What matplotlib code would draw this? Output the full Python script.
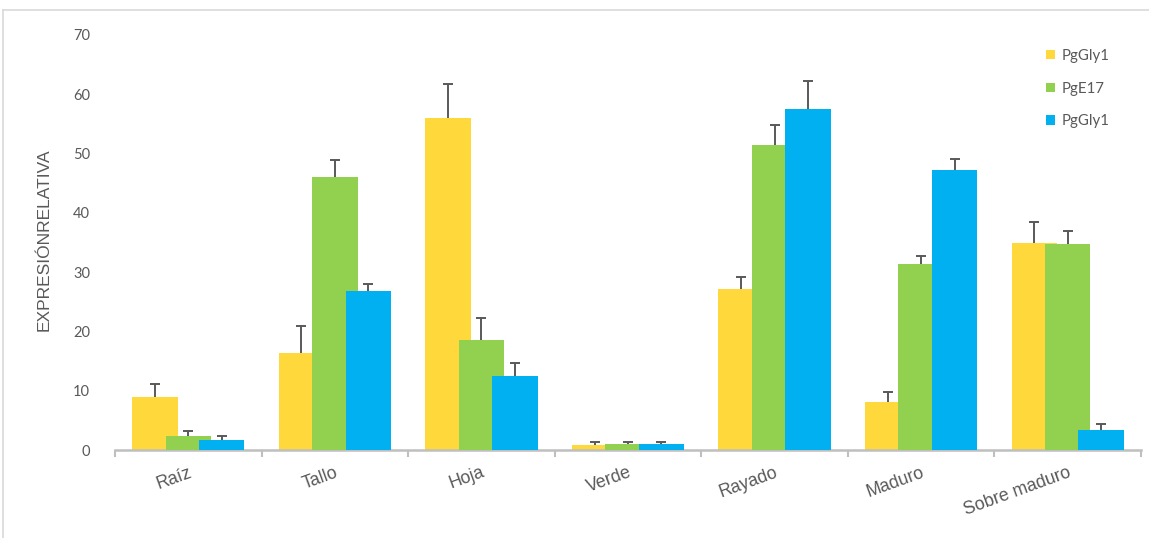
import numpy as np
import matplotlib.pyplot as plt
from matplotlib.lines import Line2D

# ============================================================
# Expresión relativa por tejido / estado de madurez
# ============================================================

categorias = ["Raíz", "Tallo", "Hoja", "Verde", "Rayado", "Maduro", "Sobre maduro"]

series = ["PgGly1", "PgE17", "PgGly1"]
colores = ["#FFD93B", "#92D050", "#00B0F0"]

# medias
gly1_a = [9.0, 16.4, 56.0, 0.9, 27.2, 8.1, 35.0]
e17 = [2.3, 46.0, 18.6, 1.0, 51.4, 31.3, 34.7]
gly1_b = [1.7, 26.9, 12.5, 1.0, 57.5, 47.2, 3.4]

# error (solo hacia arriba)
err_gly1_a = [2.1, 4.5, 5.7, 0.4, 1.9, 1.6, 3.5]
err_e17 = [0.85, 3.0, 3.7, 0.4, 3.5, 1.5, 2.2]
err_gly1_b = [0.7, 1.1, 2.2, 0.4, 4.7, 1.9, 1.0]

medias = [gly1_a, e17, gly1_b]
errores = [err_gly1_a, err_e17, err_gly1_b]

gris = "#595959"

# ============================================================
# Figura
# ============================================================

fig = plt.figure(figsize=(11.49, 5.38), dpi=100)
ax = fig.add_axes([115 / 1149, 1 - 450 / 538, (1141 - 115) / 1149, 415 / 538])

x = np.arange(len(categorias))
ancho = 0.31
paso = 0.2285

for i, (vals, errs) in enumerate(zip(medias, errores)):
    pos = x + (i - 1) * paso
    ax.bar(pos, vals, width=ancho, color=colores[i], label=series[i],
           zorder=2 + i)
    eb = ax.errorbar(pos, vals, yerr=[np.zeros(len(vals)), errs], fmt="none",
                     ecolor=gris, elinewidth=1.4, capsize=3.3, capthick=1.4,
                     zorder=6)
    # sin tapa inferior
    eb[1][0].set_visible(False)

ax.set_xlim(-0.5, len(categorias) - 0.5)
ax.set_ylim(0, 70)
ax.set_yticks(np.arange(0, 71, 10))

for s in ["top", "right", "left"]:
    ax.spines[s].set_visible(False)
ax.spines["bottom"].set_color("#BFBFBF")
ax.spines["bottom"].set_linewidth(1.8)

ax.set_xticks(x)
ax.set_xticklabels(categorias, rotation=20, ha="right",
                   rotation_mode="anchor", fontsize=12.8, color=gris,
                   family="Liberation Sans")
ax.set_xticks(np.arange(-0.5, len(categorias), 1), minor=True)
ax.tick_params(axis="x", which="major", length=0, pad=10)
ax.tick_params(axis="x", which="minor", length=5, width=1.5,
               color="#BFBFBF", direction="out")

ax.tick_params(axis="y", length=0, pad=18, labelcolor=gris, labelsize=10.5)
for lab in ax.get_yticklabels():
    lab.set_family("Lato")

fig.text(44 / 1149, 1 - 240 / 538, "EXPRESIÓNRELATIVA", rotation=90,
         ha="center", va="center", fontsize=12.5, color=gris,
         family="Liberation Sans")

leg = fig.legend(loc="upper left", bbox_to_anchor=(1046 / 1149, 1 - 49 / 538),
                 frameon=False, borderpad=0, borderaxespad=0,
                 handlelength=0.6, handleheight=0.6, handletextpad=0.45,
                 labelspacing=1.25, prop={"family": "Lato", "size": 10.8})
for t in leg.get_texts():
    t.set_color(gris)

# marco del área del gráfico
fig.add_artist(Line2D([3 / 1149, 1], [1 - 10 / 538, 1 - 10 / 538],
                      color="#D9D9D9", lw=1.2, transform=fig.transFigure))
fig.add_artist(Line2D([3 / 1149, 3 / 1149], [0, 1 - 10 / 538],
                      color="#D9D9D9", lw=1.2, transform=fig.transFigure))

fig.savefig("out.png", dpi=100)
